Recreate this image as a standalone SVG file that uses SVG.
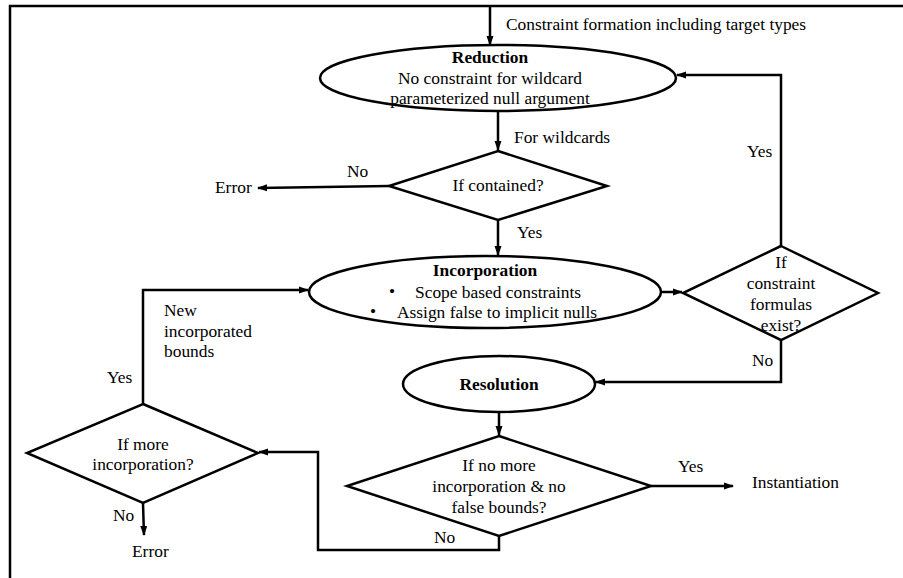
<svg xmlns="http://www.w3.org/2000/svg" width="903" height="578" viewBox="0 0 903 578" font-family="'Liberation Serif', 'Times New Roman', serif">
<defs>
<marker id="arr" markerUnits="userSpaceOnUse" markerWidth="10" markerHeight="8" refX="9" refY="4" orient="auto">
<path d="M0,0.5 L10,4 L0,7.5 Z" fill="#000"/>
</marker>
</defs>
<style>
text{font-family:'Liberation Serif','Times New Roman',serif;font-size:17.4px;fill:#000}
.c{text-anchor:middle}
.b{font-weight:bold}
.shape{fill:#fff;stroke:#000;stroke-width:2.5}
.line{fill:none;stroke:#000;stroke-width:2.5}
.arrow{fill:none;stroke:#000;stroke-width:2.5;marker-end:url(#arr)}
</style>
<rect width="903" height="578" fill="#fff"/>
<path class="line" d="M10,578 V6 H903"/>

<g id="connectors">
<path class="arrow" d="M490,6 V45"/>
<path class="arrow" d="M498,111 V150"/>
<path class="arrow" d="M389,186 L258,188"/>
<path class="arrow" d="M498,220 V255"/>
<path class="arrow" d="M661,292 H682"/>
<path class="arrow" d="M781,246 V75 H677"/>
<path class="arrow" d="M781,340 V382 H596"/>
<path class="arrow" d="M499,412 V435"/>
<path class="arrow" d="M651,486 H733"/>
<path class="arrow" d="M499,536 V550 H318 V452 H259"/>
<path class="arrow" d="M143,404 V290 H308"/>
<path class="arrow" d="M143,503 L144,535"/>
</g>

<g id="labels">
<text x="506" y="30">Constraint formation including target types</text>
<text x="514" y="143">For wildcards</text>
<text x="347" y="177">No</text>
<text x="215" y="193">Error</text>
<text x="517" y="238">Yes</text>
<text x="747" y="157">Yes</text>
<text x="752" y="366">No</text>
<text x="678" y="472">Yes</text>
<text x="752" y="488">Instantiation</text>
<text x="434" y="543">No</text>
<text x="107" y="383">Yes</text>
<text x="164" y="316">New</text>
<text x="164" y="337">incorporated</text>
<text x="164" y="357">bounds</text>
<text x="113" y="521">No</text>
<text x="132" y="557">Error</text>
</g>

<g id="reduction">
<ellipse class="shape" cx="498" cy="78" rx="178" ry="33"/>
<text class="c b" x="490" y="63">Reduction</text>
<text class="c" x="490" y="84">No constraint for wildcard</text>
<text class="c" x="490" y="104">parameterized null argument</text>
</g>

<g id="contained">
<polygon class="shape" points="498,151 607,186 498,220 389,186"/>
<text class="c" x="498" y="191">If contained?</text>
</g>

<g id="incorporation">
<ellipse class="shape" cx="485" cy="292" rx="176" ry="36"/>
<text class="c b" x="485" y="276">Incorporation</text>
<text x="389" y="297">•</text>
<text x="415" y="298">Scope based constraints</text>
<text x="370" y="317">•</text>
<text x="397" y="318">Assign false to implicit nulls</text>
</g>

<g id="formulas">
<polygon class="shape" points="781,246 878,293 781,340 683,293"/>
<text class="c" x="781" y="268">If</text>
<text class="c" x="781" y="289">constraint</text>
<text class="c" x="781" y="310">formulas</text>
<text class="c" x="781" y="331">exist?</text>
</g>

<g id="resolution">
<ellipse class="shape" cx="499" cy="384" rx="96" ry="28"/>
<text class="c b" x="499" y="390">Resolution</text>
</g>

<g id="nomore">
<polygon class="shape" points="499,436 651,486 499,536 347,486"/>
<text class="c" x="499" y="471">If no more</text>
<text class="c" x="499" y="492">incorporation &amp; no</text>
<text class="c" x="499" y="513">false bounds?</text>
</g>

<g id="more">
<polygon class="shape" points="143,404 258,453 143,503 27,453"/>
<text class="c" x="143" y="450">If more</text>
<text class="c" x="143" y="470">incorporation?</text>
</g>
</svg>
